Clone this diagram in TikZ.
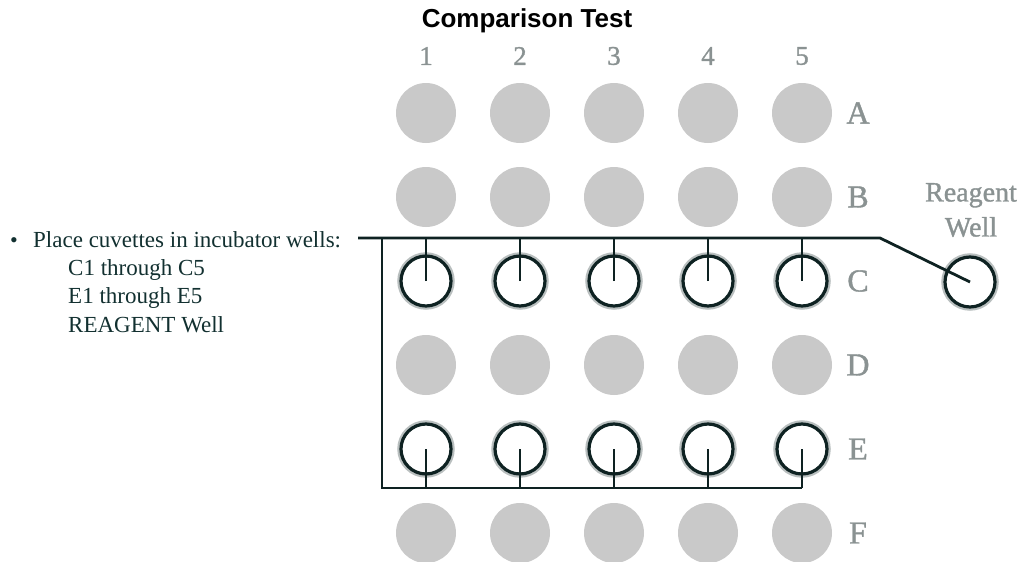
\documentclass[tikz,border=0pt]{standalone}
\usepackage{fontspec}
\setmainfont{Liberation Serif}
\newfontfamily\titlefont{Liberation Sans}
\newfontfamily\gridfont[FakeBold=1.2]{Liberation Serif}
\definecolor{wellgrey}{HTML}{C9C9C9}
\definecolor{halogrey}{HTML}{B9BFBF}
\definecolor{linecol}{HTML}{0E2222}
\definecolor{labgrey}{HTML}{8A9292}
\definecolor{txtcol}{HTML}{123030}
\begin{document}
\begin{tikzpicture}[x=1pt,y=-1pt,
  well/.style={circle,fill=wellgrey,minimum size=60pt,inner sep=0pt,outer sep=0pt},
  cuv/.style={circle,draw=linecol,line width=3.2pt,fill=white,minimum size=50pt,inner sep=0pt,outer sep=0pt,
    preaction={draw=halogrey,line width=7.5pt}},
  lbl/.style={text=labgrey,inner sep=0pt},
  wire/.style={draw=linecol,line width=2.8pt},
  txt/.style={text=txtcol,inner sep=0pt,anchor=base west,font=\fontsize{23}{23}\selectfont}]
\useasboundingbox (0,0) rectangle (1026,562);
% title
\node[inner sep=0pt,text=black] (title) at (527,21) {\titlefont\bfseries\fontsize{26}{26}\selectfont Comparison Test};
% column numbers
\foreach \c/\x in {1/426,2/520,3/614,4/708,5/802}{
  \node[lbl,font=\gridfont\fontsize{27}{27}\selectfont] (col\c) at (\x,56) {\c};
}
% rows
\foreach \r/\y in {A/113,B/197,C/281,D/365,E/449,F/533}{
  \node[lbl,font=\gridfont\fontsize{32}{32}\selectfont] (row\r) at (858,\y) {\r};
}
% plain wells
\foreach \r/\y in {A/113,B/197,D/365,F/533}{
  \foreach \c/\x in {1/426,2/520,3/614,4/708,5/802}{
    \node[well] (w-\r-\c) at (\x,\y) {};
  }
}
% cuvette wells
\foreach \r/\y in {C/281,E/449}{
  \foreach \c/\x in {1/426,2/520,3/614,4/708,5/802}{
    \node[cuv] (w-\r-\c) at (\x,\y) {};
  }
}
\node[cuv] (rw) at (970,282) {};
\node[lbl,font=\gridfont\fontsize{28}{35}\selectfont,align=center] (rwlbl) at (971,210) {Reagent\\Well};
% text
\node[txt,font=\fontsize{22}{22}\selectfont] (bul) at (10,247) {\textbullet};
\node[txt] (t1) at (33,247) {Place cuvettes in incubator wells:};
\node[txt] (t2) at (68,275) {C1 through C5};
\node[txt] (t3) at (68,303) {E1 through E5};
\node[txt] (t4) at (68,332) {REAGENT Well};
% wires
\coordinate (busL) at (358,238);
\coordinate (busK) at (880,238);
\coordinate (tl) at (382,238);
\coordinate (bl) at (382,488);
\coordinate (br) at (802,488);
\draw[wire] (busL) -- (busK) -- (rw.center);
\draw[wire] (tl) -- (bl) -- (br);
\foreach \c in {1,...,5}{
  \draw[wire] (w-C-\c.center) -- (w-C-\c.center |- busL);
  \draw[wire] (w-E-\c.center) -- (w-E-\c.center |- bl);
}
\end{tikzpicture}
\end{document}
